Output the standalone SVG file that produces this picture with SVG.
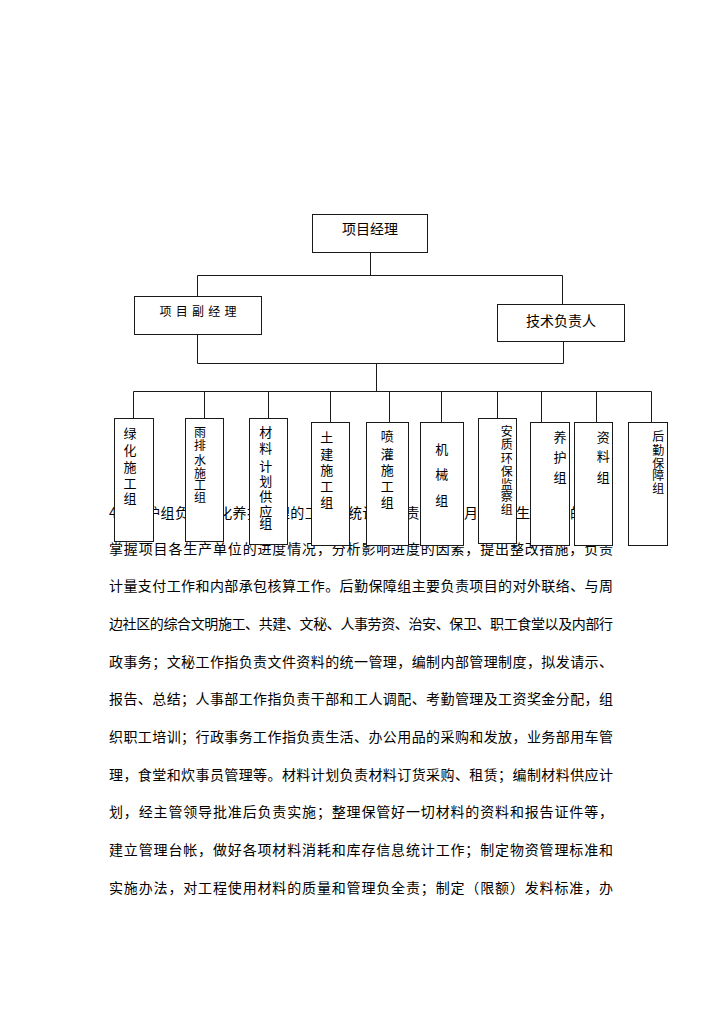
<svg xmlns="http://www.w3.org/2000/svg" width="724" height="1024" viewBox="0 0 724 1024">
<style>
text{font-family:"Noto Sans CJK SC","Noto Sans",sans-serif;fill:#000}
.p{font-size:14px}
.n{fill:#fff;stroke:#1a1a1a;stroke-width:1}
.c{fill:none;stroke:#1a1a1a;stroke-width:1}
.v{font-size:13px;text-anchor:middle}
.s{font-size:12px}
.t{font-size:14px}
</style>
<rect x="0" y="0" width="724" height="1024" fill="#fff"/>
<g id="paragraph">
<text class="p" y="517.5"><tspan x="109">4</tspan><tspan x="117.2" textLength="302.4" lengthAdjust="spacing">、养护组负责绿化养护管理的工作；统计员负责</tspan><tspan x="420" textLength="58" lengthAdjust="spacing">项目每月</tspan><tspan x="480" textLength="28" lengthAdjust="spacing">统计</tspan><tspan x="516" textLength="54" lengthAdjust="spacing">生产报表</tspan><tspan x="570" textLength="43" lengthAdjust="spacing">的汇总</tspan></text>
<text class="p" x="109" y="553.5" textLength="504" lengthAdjust="spacing">掌握项目各生产单位的进度情况，分析影响进度的因素，提出整改措施，负责</text>
<text class="p" x="109" y="591.2" textLength="504" lengthAdjust="spacing">计量支付工作和内部承包核算工作。后勤保障组主要负责项目的对外联络、与周</text>
<text class="p" x="109" y="628.9" textLength="504" lengthAdjust="spacing">边社区的综合文明施工、共建、文秘、人事劳资、治安、保卫、职工食堂以及内部行</text>
<text class="p" x="109" y="666.6" textLength="504" lengthAdjust="spacing">政事务；文秘工作指负责文件资料的统一管理，编制内部管理制度，拟发请示、</text>
<text class="p" x="109" y="704.3" textLength="504" lengthAdjust="spacing">报告、总结；人事部工作指负责干部和工人调配、考勤管理及工资奖金分配，组</text>
<text class="p" x="109" y="742" textLength="504" lengthAdjust="spacing">织职工培训；行政事务工作指负责生活、办公用品的采购和发放，业务部用车管</text>
<text class="p" x="109" y="779.7" textLength="504" lengthAdjust="spacing">理，食堂和炊事员管理等。材料计划负责材料订货采购、租赁；编制材料供应计</text>
<text class="p" x="109" y="817.4" textLength="504" lengthAdjust="spacing">划，经主管领导批准后负责实施；整理保管好一切材料的资料和报告证件等，</text>
<text class="p" x="109" y="855.1" textLength="504" lengthAdjust="spacing">建立管理台帐，做好各项材料消耗和库存信息统计工作；制定物资管理标准和</text>
<text class="p" x="109" y="892.8" textLength="504" lengthAdjust="spacing">实施办法，对工程使用材料的质量和管理负全责；制定（限额）发料标准，办</text>
</g>
<g id="connectors">
<path class="c" d="M370.5 252.5V275.5M197.5 275.5H562.5M197.5 275.5V296.5M562.5 275.5V304.5"/>
<path class="c" d="M197.5 334.5V363.5H563.5V341.5M376.5 363.5V391.5M133.5 391.5H651.5"/>
<path class="c" d="M133.5 391.5V418.5M204.5 391.5V418.5M268.5 391.5V418.5M330.5 391.5V422.5M389.5 391.5V422.5M441.5 391.5V422.5M497.5 391.5V418.5M541.5 391.5V422.5M596.5 391.5V422.5M651.5 391.5V422.5"/>
</g>
<g id="n-pm"><rect class="n" x="312.5" y="214.5" width="115" height="38"/><text class="t" x="370" y="234" text-anchor="middle">项目经理</text></g>
<g id="n-deputy"><rect class="n" x="134.5" y="296.5" width="127" height="38"/><text x="159.5" y="315.5" font-size="12" textLength="77" lengthAdjust="spacing">项目副经理</text></g>
<g id="n-tech"><rect class="n" x="497.5" y="304.5" width="127" height="37"/><text class="t" x="526" y="326">技术负责人</text></g>
<g id="n-g1"><rect class="n" x="114.5" y="418.5" width="39" height="123"/><text class="v"><tspan x="130" y="438">绿</tspan><tspan x="130" y="455">化</tspan><tspan x="130" y="471.5">施</tspan><tspan x="130" y="488">工</tspan><tspan x="130" y="503">组</tspan></text></g>
<g id="n-g2"><rect class="n" x="185.5" y="418.5" width="38" height="123"/><text class="v s"><tspan x="200" y="437">雨</tspan><tspan x="200" y="450">排</tspan><tspan x="200" y="464.5">水</tspan><tspan x="200" y="478">施</tspan><tspan x="200" y="490">工</tspan><tspan x="200" y="501.5">组</tspan></text></g>
<g id="n-g3"><rect class="n" x="249.5" y="418.5" width="38" height="126"/><text class="v"><tspan x="265.7" y="437">材</tspan><tspan x="265.7" y="453">料</tspan><tspan x="265.7" y="470.5">计</tspan><tspan x="265.7" y="485.5">划</tspan><tspan x="265.7" y="500.5">供</tspan><tspan x="265.7" y="515.5">应</tspan><tspan x="265.7" y="528">组</tspan></text></g>
<g id="n-g4"><rect class="n" x="311.5" y="422.5" width="38" height="123"/><text class="v"><tspan x="326.7" y="441.5">土</tspan><tspan x="326.7" y="458.5">建</tspan><tspan x="326.7" y="475">施</tspan><tspan x="326.7" y="491">工</tspan><tspan x="326.7" y="506.5">组</tspan></text></g>
<g id="n-g5"><rect class="n" x="366.5" y="422.5" width="42" height="123"/><text class="v"><tspan x="387.3" y="441">喷</tspan><tspan x="387.3" y="458.5">灌</tspan><tspan x="387.3" y="475">施</tspan><tspan x="387.3" y="491">工</tspan><tspan x="387.3" y="506.5">组</tspan></text></g>
<g id="n-g6"><rect class="n" x="420.5" y="422.5" width="43" height="123"/><text class="v"><tspan x="441.7" y="453.5">机</tspan><tspan x="441.7" y="478.5">械</tspan><tspan x="441.7" y="505">组</tspan></text></g>
<g id="n-g7"><rect class="n" x="478.5" y="418.5" width="38" height="125"/><text class="v s"><tspan x="506.7" y="436">安</tspan><tspan x="506.7" y="449">质</tspan><tspan x="506.7" y="462.5">环</tspan><tspan x="506.7" y="476">保</tspan><tspan x="506.7" y="489">监</tspan><tspan x="506.7" y="501">察</tspan><tspan x="506.7" y="514">组</tspan></text></g>
<g id="n-g8"><rect class="n" x="530.5" y="422.5" width="39" height="123"/><text class="v"><tspan x="560" y="441.5">养</tspan><tspan x="560" y="461.5">护</tspan><tspan x="560" y="481.5">组</tspan></text></g>
<g id="n-g9"><rect class="n" x="574.5" y="422.5" width="38" height="123"/><text class="v"><tspan x="603.3" y="441.5">资</tspan><tspan x="603.3" y="461">料</tspan><tspan x="603.3" y="481.5">组</tspan></text></g>
<g id="n-g10"><rect class="n" x="628.5" y="422.5" width="39" height="123"/><text class="v s"><tspan x="658.3" y="440.5">后</tspan><tspan x="658.3" y="454.5">勤</tspan><tspan x="658.3" y="467.5">保</tspan><tspan x="658.3" y="479.5">障</tspan><tspan x="658.3" y="492.5">组</tspan></text></g>
</svg>
